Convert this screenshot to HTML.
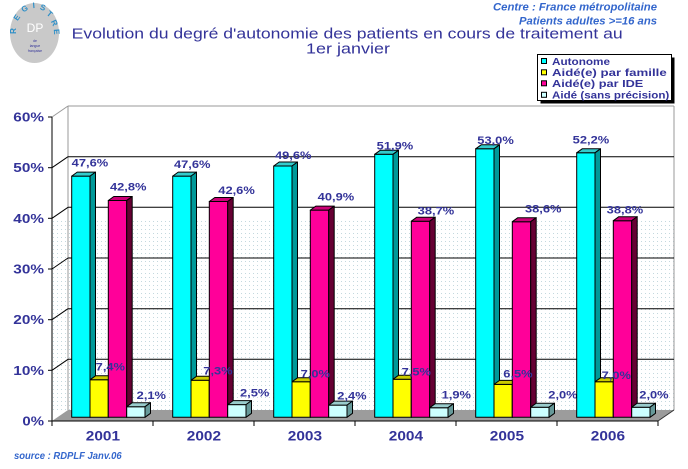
<!DOCTYPE html>
<html><head><meta charset="utf-8"><style>
html,body{margin:0;padding:0;background:#fff;}
svg{display:block;}
text{font-family:"Liberation Sans",Arial,sans-serif;}
</style></head><body>
<svg width="688" height="469" viewBox="0 0 688 469" xmlns="http://www.w3.org/2000/svg">
<defs>
<pattern id="dots" x="0" y="0" width="4" height="4" patternUnits="userSpaceOnUse">
<rect x="1" y="1" width="1" height="1" fill="#c4d8de"/>
</pattern>
</defs>
<rect width="688" height="469" fill="#fff"/>

<!-- Logo -->
<ellipse cx="34.5" cy="33" rx="24.5" ry="30" fill="#c9c9c9"/>
<g font-size="8" font-weight="bold" fill="#2d8fc8" text-anchor="middle">
<text transform="translate(16,31) rotate(-90)">R</text>
<text transform="translate(19,19) rotate(-55)">E</text>
<text transform="translate(26,11) rotate(-30)">G</text>
<text transform="translate(34,8) rotate(-5)">I</text>
<text transform="translate(42,10) rotate(20)">S</text>
<text transform="translate(48,16) rotate(40)">T</text>
<text transform="translate(52,24) rotate(65)">R</text>
<text transform="translate(54,32) rotate(85)">E</text>
</g>
<text x="35" y="32" font-size="12" fill="#ffffff" text-anchor="middle" font-family="Liberation Serif,serif">DP</text>
<g font-size="3.5" fill="#333399" text-anchor="middle">
<text x="35" y="42">de</text>
<text x="35" y="47">langue</text>
<text x="35" y="52">française</text>
</g>

<!-- Title -->
<text x="71.7" y="38.3" font-size="15" fill="#333399" textLength="551" lengthAdjust="spacingAndGlyphs">Evolution du degré d'autonomie des patients en cours de traitement au</text>
<text x="306" y="53.5" font-size="15" fill="#333399" textLength="84" lengthAdjust="spacingAndGlyphs">1er janvier</text>

<!-- Top right -->
<text x="657" y="10.3" font-size="11" font-style="italic" font-weight="bold" fill="#3366cc" text-anchor="end" textLength="164" lengthAdjust="spacingAndGlyphs">Centre : France métropolitaine</text>
<text x="657" y="24.5" font-size="11" font-style="italic" font-weight="bold" fill="#3366cc" text-anchor="end" textLength="138" lengthAdjust="spacingAndGlyphs">Patients adultes &gt;=16 ans</text>

<!-- Legend -->
<rect x="540.5" y="57.5" width="134" height="46" fill="#000"/>
<rect x="537.5" y="54.5" width="134" height="46" fill="#fff" stroke="#000" stroke-width="1"/>
<rect x="541.5" y="58.5" width="5" height="5" fill="#00ffff" stroke="#000"/>
<rect x="541.5" y="69.8" width="5" height="5" fill="#ffff00" stroke="#000"/>
<rect x="541.5" y="80.8" width="5" height="5" fill="#ff0099" stroke="#000"/>
<rect x="541.5" y="92.3" width="5" height="5" fill="#ccffff" stroke="#000"/>
<g font-size="10.5" font-weight="bold" fill="#333399">
<text x="552" y="64.8" textLength="58" lengthAdjust="spacingAndGlyphs">Autonome</text>
<text x="552" y="76" textLength="114.7" lengthAdjust="spacingAndGlyphs">Aidé(e) par famille</text>
<text x="552" y="87" textLength="91.3" lengthAdjust="spacingAndGlyphs">Aidé(e) par IDE</text>
<text x="552" y="98.3" textLength="117.3" lengthAdjust="spacingAndGlyphs">Aidé (sans précision)</text>
</g>

<!-- Plot background -->
<rect x="53" y="220" width="621" height="190" fill="url(#dots)"/>
<line x1="68" y1="106" x2="674" y2="106" stroke="#999" stroke-width="1"/>
<line x1="68" y1="106" x2="68" y2="410" stroke="#999" stroke-width="1"/>
<line x1="674" y1="106" x2="674" y2="410" stroke="#999" stroke-width="1"/>
<line x1="52" y1="117" x2="68" y2="106" stroke="#999" stroke-width="1"/>
<g stroke="#000" stroke-width="1">
<line x1="68" y1="156.7" x2="674" y2="156.7"/>
<line x1="68" y1="207.3" x2="674" y2="207.3"/>
<line x1="68" y1="258" x2="674" y2="258"/>
<line x1="68" y1="308.7" x2="674" y2="308.7"/>
<line x1="68" y1="359.3" x2="674" y2="359.3"/>
<line x1="52" y1="167.7" x2="68" y2="156.7"/>
<line x1="52" y1="218.3" x2="68" y2="207.3"/>
<line x1="52" y1="269" x2="68" y2="258"/>
<line x1="52" y1="319.7" x2="68" y2="308.7"/>
<line x1="52" y1="370.3" x2="68" y2="359.3"/>
</g>
<!-- Floor -->
<polygon points="52,421 68,410 674,410 658,421" fill="#9c9c9c"/>
<line x1="658" y1="421" x2="674" y2="410" stroke="#333" stroke-width="1"/>
<!-- Axes -->
<g stroke="#000" stroke-width="1">
<line x1="52" y1="117" x2="52" y2="421"/>
<line x1="52" y1="421" x2="658" y2="421"/>
<line x1="48" y1="117" x2="52" y2="117"/>
<line x1="48" y1="167.7" x2="52" y2="167.7"/>
<line x1="48" y1="218.3" x2="52" y2="218.3"/>
<line x1="48" y1="269" x2="52" y2="269"/>
<line x1="48" y1="319.7" x2="52" y2="319.7"/>
<line x1="48" y1="370.3" x2="52" y2="370.3"/>
<line x1="48" y1="421" x2="52" y2="421"/>
<line x1="52" y1="421" x2="52" y2="426"/>
<line x1="153" y1="421" x2="153" y2="426"/>
<line x1="254" y1="421" x2="254" y2="426"/>
<line x1="355" y1="421" x2="355" y2="426"/>
<line x1="456" y1="421" x2="456" y2="426"/>
<line x1="557" y1="421" x2="557" y2="426"/>
<line x1="658" y1="421" x2="658" y2="426"/>
</g>
<!-- Y labels -->
<g font-size="13" font-weight="bold" fill="#333399" text-anchor="end">
<text x="44" y="121.5" textLength="30.7" lengthAdjust="spacingAndGlyphs">60%</text>
<text x="44" y="172.2" textLength="30.7" lengthAdjust="spacingAndGlyphs">50%</text>
<text x="44" y="222.8" textLength="30.7" lengthAdjust="spacingAndGlyphs">40%</text>
<text x="44" y="273.5" textLength="30.7" lengthAdjust="spacingAndGlyphs">30%</text>
<text x="44" y="324.2" textLength="30.7" lengthAdjust="spacingAndGlyphs">20%</text>
<text x="44" y="374.8" textLength="30.7" lengthAdjust="spacingAndGlyphs">10%</text>
<text x="44" y="425.5" textLength="21.6" lengthAdjust="spacingAndGlyphs">0%</text>
</g>
<!-- X labels -->
<g font-size="14" font-weight="bold" fill="#333399" text-anchor="middle">
<text x="102.9" y="440.7" textLength="34.3" lengthAdjust="spacingAndGlyphs">2001</text>
<text x="203.9" y="440.7" textLength="34.3" lengthAdjust="spacingAndGlyphs">2002</text>
<text x="304.9" y="440.7" textLength="34.3" lengthAdjust="spacingAndGlyphs">2003</text>
<text x="405.9" y="440.7" textLength="34.3" lengthAdjust="spacingAndGlyphs">2004</text>
<text x="506.9" y="440.7" textLength="34.3" lengthAdjust="spacingAndGlyphs">2005</text>
<text x="607.9" y="440.7" textLength="34.3" lengthAdjust="spacingAndGlyphs">2006</text>
</g>
<text x="14" y="459" font-size="10" font-style="italic" font-weight="bold" fill="#3366cc" textLength="107.7" lengthAdjust="spacingAndGlyphs">source : RDPLF  Janv.06</text>

<!-- ===== 2001 ===== -->
<g stroke="#000" stroke-width="1" stroke-linejoin="round">
<rect x="71.7" y="176.1" width="18.3" height="241.2" fill="#00ffff"/>
<polygon points="71.7,176.1 77.2,172.1 95.5,172.1 90,176.1" fill="#33cccc"/>
<polygon points="90,176.1 95.5,172.1 95.5,413.3 90,417.3" fill="#009999"/>
<rect x="90" y="379.8" width="18.3" height="37.5" fill="#ffff00"/>
<polygon points="90,379.8 95.5,375.8 113.8,375.8 108.3,379.8" fill="#cccc00"/>
<polygon points="108.3,379.8 113.8,375.8 113.8,413.3 108.3,417.3" fill="#999900"/>
<rect x="108.3" y="200.5" width="18.4" height="216.8" fill="#ff0099"/>
<polygon points="108.3,200.5 113.8,196.5 132.2,196.5 126.7,200.5" fill="#cc0077"/>
<polygon points="126.7,200.5 132.2,196.5 132.2,413.3 126.7,417.3" fill="#660033"/>
<rect x="126.7" y="406.7" width="18.3" height="10.6" fill="#ccffff"/>
<polygon points="126.7,406.7 132.2,402.7 150.5,402.7 145,406.7" fill="#99cccc"/>
<polygon points="145,406.7 150.5,402.7 150.5,413.3 145,417.3" fill="#669999"/>
</g>
<g font-size="11" font-weight="bold" fill="#333399">
<text x="71.7" y="166.7" textLength="36.5" lengthAdjust="spacingAndGlyphs">47,6%</text>
<text x="95.7" y="370.7" textLength="29.3" lengthAdjust="spacingAndGlyphs">7,4%</text>
<text x="110" y="190.7" textLength="36.5" lengthAdjust="spacingAndGlyphs">42,8%</text>
<text x="136.7" y="399" textLength="29.3" lengthAdjust="spacingAndGlyphs">2,1%</text>
</g>

<!-- ===== 2002 ===== -->
<g stroke="#000" stroke-width="1" stroke-linejoin="round" transform="translate(101,0)">
<rect x="71.7" y="176.1" width="18.3" height="241.2" fill="#00ffff"/>
<polygon points="71.7,176.1 77.2,172.1 95.5,172.1 90,176.1" fill="#33cccc"/>
<polygon points="90,176.1 95.5,172.1 95.5,413.3 90,417.3" fill="#009999"/>
<rect x="90" y="380.3" width="18.3" height="37" fill="#ffff00"/>
<polygon points="90,380.3 95.5,376.3 113.8,376.3 108.3,380.3" fill="#cccc00"/>
<polygon points="108.3,380.3 113.8,376.3 113.8,413.3 108.3,417.3" fill="#999900"/>
<rect x="108.3" y="201.5" width="18.4" height="215.8" fill="#ff0099"/>
<polygon points="108.3,201.5 113.8,197.5 132.2,197.5 126.7,201.5" fill="#cc0077"/>
<polygon points="126.7,201.5 132.2,197.5 132.2,413.3 126.7,417.3" fill="#660033"/>
<rect x="126.7" y="404.6" width="18.3" height="12.7" fill="#ccffff"/>
<polygon points="126.7,404.6 132.2,400.6 150.5,400.6 145,404.6" fill="#99cccc"/>
<polygon points="145,404.6 150.5,400.6 150.5,413.3 145,417.3" fill="#669999"/>
</g>
<g font-size="11" font-weight="bold" fill="#333399">
<text x="174" y="168" textLength="36.5" lengthAdjust="spacingAndGlyphs">47,6%</text>
<text x="203.3" y="374.7" textLength="29.3" lengthAdjust="spacingAndGlyphs">7,3%</text>
<text x="218.3" y="194" textLength="36.5" lengthAdjust="spacingAndGlyphs">42,6%</text>
<text x="240" y="396.3" textLength="29.3" lengthAdjust="spacingAndGlyphs">2,5%</text>
</g>

<!-- ===== 2003 ===== -->
<g stroke="#000" stroke-width="1" stroke-linejoin="round" transform="translate(202,0)">
<rect x="71.7" y="166" width="18.3" height="251.3" fill="#00ffff"/>
<polygon points="71.7,166 77.2,162 95.5,162 90,166" fill="#33cccc"/>
<polygon points="90,166 95.5,162 95.5,413.3 90,417.3" fill="#009999"/>
<rect x="90" y="381.8" width="18.3" height="35.5" fill="#ffff00"/>
<polygon points="90,381.8 95.5,377.8 113.8,377.8 108.3,381.8" fill="#cccc00"/>
<polygon points="108.3,381.8 113.8,377.8 113.8,413.3 108.3,417.3" fill="#999900"/>
<rect x="108.3" y="210.1" width="18.4" height="207.2" fill="#ff0099"/>
<polygon points="108.3,210.1 113.8,206.1 132.2,206.1 126.7,210.1" fill="#cc0077"/>
<polygon points="126.7,210.1 132.2,206.1 132.2,413.3 126.7,417.3" fill="#660033"/>
<rect x="126.7" y="405.1" width="18.3" height="12.2" fill="#ccffff"/>
<polygon points="126.7,405.1 132.2,401.1 150.5,401.1 145,405.1" fill="#99cccc"/>
<polygon points="145,405.1 150.5,401.1 150.5,413.3 145,417.3" fill="#669999"/>
</g>
<g font-size="11" font-weight="bold" fill="#333399">
<text x="275" y="159" textLength="36.5" lengthAdjust="spacingAndGlyphs">49,6%</text>
<text x="300.7" y="377.3" textLength="29.3" lengthAdjust="spacingAndGlyphs">7,0%</text>
<text x="317.7" y="200.7" textLength="36.5" lengthAdjust="spacingAndGlyphs">40,9%</text>
<text x="337.3" y="399.7" textLength="29.3" lengthAdjust="spacingAndGlyphs">2,4%</text>
</g>

<!-- ===== 2004 ===== -->
<g stroke="#000" stroke-width="1" stroke-linejoin="round" transform="translate(303,0)">
<rect x="71.7" y="154.3" width="18.3" height="263" fill="#00ffff"/>
<polygon points="71.7,154.3 77.2,150.3 95.5,150.3 90,154.3" fill="#33cccc"/>
<polygon points="90,154.3 95.5,150.3 95.5,413.3 90,417.3" fill="#009999"/>
<rect x="90" y="379.3" width="18.3" height="38" fill="#ffff00"/>
<polygon points="90,379.3 95.5,375.3 113.8,375.3 108.3,379.3" fill="#cccc00"/>
<polygon points="108.3,379.3 113.8,375.3 113.8,413.3 108.3,417.3" fill="#999900"/>
<rect x="108.3" y="221.2" width="18.4" height="196.1" fill="#ff0099"/>
<polygon points="108.3,221.2 113.8,217.2 132.2,217.2 126.7,221.2" fill="#cc0077"/>
<polygon points="126.7,221.2 132.2,217.2 132.2,413.3 126.7,417.3" fill="#660033"/>
<rect x="126.7" y="407.7" width="18.3" height="9.6" fill="#ccffff"/>
<polygon points="126.7,407.7 132.2,403.7 150.5,403.7 145,407.7" fill="#99cccc"/>
<polygon points="145,407.7 150.5,403.7 150.5,413.3 145,417.3" fill="#669999"/>
</g>
<g font-size="11" font-weight="bold" fill="#333399">
<text x="376.7" y="149.7" textLength="36.5" lengthAdjust="spacingAndGlyphs">51,9%</text>
<text x="401.7" y="375.7" textLength="29.3" lengthAdjust="spacingAndGlyphs">7,5%</text>
<text x="417.7" y="214.7" textLength="36.5" lengthAdjust="spacingAndGlyphs">38,7%</text>
<text x="441.7" y="398.5" textLength="29.3" lengthAdjust="spacingAndGlyphs">1,9%</text>
</g>

<!-- ===== 2005 ===== -->
<g stroke="#000" stroke-width="1" stroke-linejoin="round" transform="translate(404,0)">
<rect x="71.7" y="148.8" width="18.3" height="268.5" fill="#00ffff"/>
<polygon points="71.7,148.8 77.2,144.8 95.5,144.8 90,148.8" fill="#33cccc"/>
<polygon points="90,148.8 95.5,144.8 95.5,413.3 90,417.3" fill="#009999"/>
<rect x="90" y="384.4" width="18.3" height="32.9" fill="#ffff00"/>
<polygon points="90,384.4 95.5,380.4 113.8,380.4 108.3,384.4" fill="#cccc00"/>
<polygon points="108.3,384.4 113.8,380.4 113.8,413.3 108.3,417.3" fill="#999900"/>
<rect x="108.3" y="221.7" width="18.4" height="195.6" fill="#ff0099"/>
<polygon points="108.3,221.7 113.8,217.7 132.2,217.7 126.7,221.7" fill="#cc0077"/>
<polygon points="126.7,221.7 132.2,217.7 132.2,413.3 126.7,417.3" fill="#660033"/>
<rect x="126.7" y="407.2" width="18.3" height="10.1" fill="#ccffff"/>
<polygon points="126.7,407.2 132.2,403.2 150.5,403.2 145,407.2" fill="#99cccc"/>
<polygon points="145,407.2 150.5,403.2 150.5,413.3 145,417.3" fill="#669999"/>
</g>
<g font-size="11" font-weight="bold" fill="#333399">
<text x="477.3" y="144" textLength="36.5" lengthAdjust="spacingAndGlyphs">53,0%</text>
<text x="503.3" y="377.3" textLength="29.3" lengthAdjust="spacingAndGlyphs">6,5%</text>
<text x="525" y="212.3" textLength="36.5" lengthAdjust="spacingAndGlyphs">38,6%</text>
<text x="548.3" y="398.7" textLength="29.3" lengthAdjust="spacingAndGlyphs">2,0%</text>
</g>

<!-- ===== 2006 ===== -->
<g stroke="#000" stroke-width="1" stroke-linejoin="round" transform="translate(505,0)">
<rect x="71.7" y="152.8" width="18.3" height="264.5" fill="#00ffff"/>
<polygon points="71.7,152.8 77.2,148.8 95.5,148.8 90,152.8" fill="#33cccc"/>
<polygon points="90,152.8 95.5,148.8 95.5,413.3 90,417.3" fill="#009999"/>
<rect x="90" y="381.8" width="18.3" height="35.5" fill="#ffff00"/>
<polygon points="90,381.8 95.5,377.8 113.8,377.8 108.3,381.8" fill="#cccc00"/>
<polygon points="108.3,381.8 113.8,377.8 113.8,413.3 108.3,417.3" fill="#999900"/>
<rect x="108.3" y="220.7" width="18.4" height="196.6" fill="#ff0099"/>
<polygon points="108.3,220.7 113.8,216.7 132.2,216.7 126.7,220.7" fill="#cc0077"/>
<polygon points="126.7,220.7 132.2,216.7 132.2,413.3 126.7,417.3" fill="#660033"/>
<rect x="126.7" y="407.2" width="18.3" height="10.1" fill="#ccffff"/>
<polygon points="126.7,407.2 132.2,403.2 150.5,403.2 145,407.2" fill="#99cccc"/>
<polygon points="145,407.2 150.5,403.2 150.5,413.3 145,417.3" fill="#669999"/>
</g>
<g font-size="11" font-weight="bold" fill="#333399">
<text x="572.7" y="143.3" textLength="36.5" lengthAdjust="spacingAndGlyphs">52,2%</text>
<text x="601.7" y="379" textLength="29.3" lengthAdjust="spacingAndGlyphs">7,0%</text>
<text x="606.7" y="213.3" textLength="36.5" lengthAdjust="spacingAndGlyphs">38,8%</text>
<text x="639.3" y="398.7" textLength="29.3" lengthAdjust="spacingAndGlyphs">2,0%</text>
</g>
</svg>
</body></html>
